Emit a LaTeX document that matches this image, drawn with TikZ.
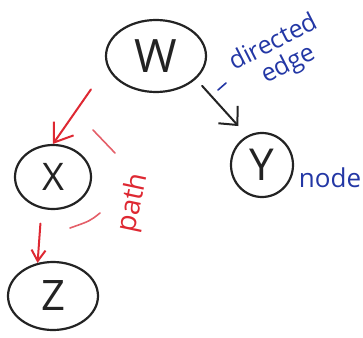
\documentclass[tikz,border=0pt]{standalone}
\usepackage{fontspec}
\setmainfont{Open Sans}
\usetikzlibrary{arrows.meta,shapes.geometric}
\definecolor{ink}{RGB}{35,35,35}
\definecolor{redink}{RGB}{222,40,50}
\definecolor{pinkink}{RGB}{228,95,105}
\definecolor{blueink}{RGB}{35,55,165}
\begin{document}
\begin{tikzpicture}[x=1pt,y=-1pt,
  vertex/.style={draw=ink, ellipse, line width=2.2pt, inner sep=0pt, text=ink},
  blackarrow/.style={draw=ink, line width=2pt, line cap=round, line join=round,
    -{Straight Barb[length=14pt,width=26pt]}},
  redarrow/.style={draw=redink, line width=2pt, line cap=round, line join=round,
    -{Straight Barb[length=17pt,width=24pt]}},
  smallredarrow/.style={draw=redink, line width=2pt, line cap=round, line join=round,
    -{Straight Barb[length=11pt,width=14pt]}},
  pathdash/.style={draw=pinkink, line width=1.6pt, line cap=round},
  bluenote/.style={text=blueink, inner sep=0pt, font=\fontsize{25}{25}\selectfont},
  rednote/.style={text=redink, inner sep=0pt, font=\fontsize{28}{28}\selectfont}
]
\useasboundingbox (0,0) rectangle (363,337);

% nodes
\node[vertex, minimum width=100, minimum height=72, font=\fontsize{46}{46}\selectfont] (w) at (156,56) {W};
\node[vertex, minimum width=76, minimum height=64, font=\fontsize{38}{38}\selectfont] (x) at (53,177) {X};
\node[vertex, minimum width=62, minimum height=64, font=\fontsize{44}{44}\selectfont] (y) at (262,165) {Y};
\node[vertex, minimum width=90, minimum height=68, font=\fontsize{42}{42}\selectfont] (z) at (53,296) {Z};

% edges
\draw[blackarrow, shorten <=9pt, shorten >=13pt] (w.-30) -- (y.117);
\draw[redarrow, shorten <=28pt] (w.192) -- (x.north);
\draw[smallredarrow, shorten <=15pt] (x.250) -- (z.115);

% path marks
\draw[pathdash] (93,130) -- (115,153);
\draw[pathdash] (100,213) .. controls (90,221) .. (70,228);
\node[rednote, rotate=78] (pathlabel) at (134,203) {path};

% annotations
\node[bluenote, rotate=27, align=center] (edgenote) at (280,55) {directed\\[1pt]\hspace*{6pt}edge};
\draw[draw=blueink, line width=1.6pt, line cap=round] (218,90) -- (226,83);
\node[bluenote, font=\fontsize{26}{26}\selectfont] (nodelabel) at (330,178) {node};
\end{tikzpicture}
\end{document}
